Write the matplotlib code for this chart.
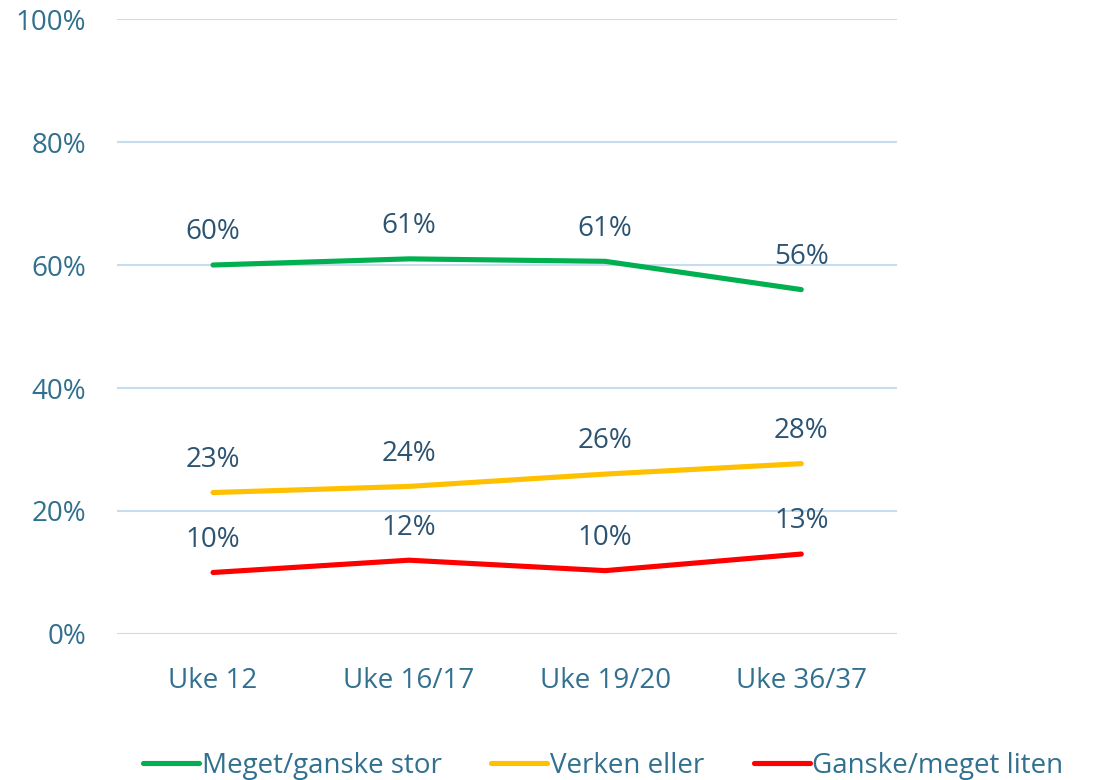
import matplotlib.pyplot as plt

plt.rcParams['font.family'] = ['Open Sans', 'DejaVu Sans']

weeks = ['Uke 12', 'Uke 16/17', 'Uke 19/20', 'Uke 36/37']
stor = [60, 61, 60.6, 56]
verken = [23, 24, 26, 27.7]
liten = [10, 12, 10.3, 13]
label_stor = ['60%', '61%', '61%', '56%']
label_verken = ['23%', '24%', '26%', '28%']
label_liten = ['10%', '12%', '10%', '13%']

tick_col = '#31708F'
lab_col = '#2C5472'
grid_col = '#C5DDED'

fig = plt.figure(figsize=(10.93, 7.8), dpi=100)
ax = fig.add_axes([0.107, 0.1872, 0.714, 0.7884])

x = list(range(len(weeks)))
series = [
    (stor, label_stor, '#00B050', 'Meget/ganske stor'),
    (verken, label_verken, '#FFC000', 'Verken eller'),
    (liten, label_liten, '#FF0000', 'Ganske/meget liten'),
]
for vals, labs, col, name in series:
    ax.plot(x, vals, color=col, lw=3.7, solid_capstyle='round', label=name, zorder=3)
    for xi, v, t in zip(x, vals, labs):
        ax.annotate(t, (xi, v), xytext=(0, 23.5), textcoords='offset points',
                    ha='center', va='center', fontsize=20, color=lab_col)

ax.set_xlim(-0.49, 3.49)
ax.set_ylim(0, 100)
ax.set_yticks(range(0, 101, 20))
ax.set_yticklabels([f'{v}%' for v in range(0, 101, 20)])
ax.set_xticks(x)
ax.set_xticklabels(weeks)
ax.tick_params(axis='both', length=0, labelsize=20, labelcolor=tick_col)
ax.tick_params(axis='y', pad=22)
ax.tick_params(axis='x', pad=24)
ax.grid(axis='y', color=grid_col, lw=1.5)
ax.set_axisbelow(True)
for s in ax.spines.values():
    s.set_visible(False)

leg = fig.legend(loc='center', bbox_to_anchor=(0.552, 0.018), ncol=3, frameon=False,
                 fontsize=20, handlelength=2.0, handletextpad=0.1, columnspacing=1.8)
for t in leg.get_texts():
    t.set_color(tick_col)

fig.savefig('out.png', dpi=100)
